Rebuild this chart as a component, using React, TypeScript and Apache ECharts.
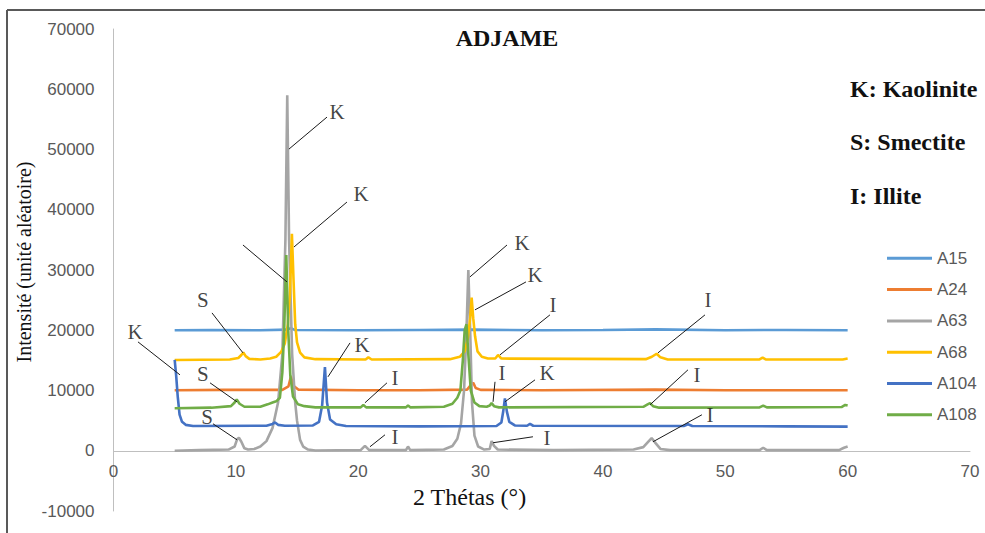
import React, { useEffect, useRef } from "react";
import * as echarts from "echarts";

const seriesNames = ["A15", "A24", "A63", "A68", "A104", "A108"];
const seriesColors = ["#5B9BD5", "#ED7D31", "#A5A5A5", "#FFC000", "#4472C4", "#70AD47"];

const a15 = [[5,20000],[8,20050],[12,20000],[14.2,20100],[14.5,20350],[14.8,20050],[20,20000],[25,20050],[29.3,20100],[35,20000],[40,20050],[44.3,20150],[50,20000],[55,20050],[60,20000]];

const a24 = [[5,10050],[9,10100],[13.8,10100],[14.3,10700],[14.5,12300],[14.7,10800],[15.1,10150],[20,10050],[25,10050],[28.9,10150],[29.2,10900],[29.4,11300],[29.6,10400],[30,10100],[35,10050],[44.3,10150],[50,10050],[60,10050]];

const a63 = [[5,0],[7,100],[9.4,200],[9.9,700],[10.1,1900],[10.25,2150],[10.45,1500],[10.7,400],[11.0,200],[11.5,300],[12.0,700],[12.5,1600],[13.0,3800],[13.45,8000],[13.8,16000],[14.05,35000],[14.2,59000],[14.35,35000],[14.6,16000],[14.85,8000],[15.0,5000],[15.25,1800],[15.5,700],[15.9,200],[16.5,50],[20.2,100],[20.55,800],[20.9,100],[23.9,100],[24.07,700],[24.25,100],[27.0,200],[27.7,800],[28.1,2000],[28.4,4500],[28.65,10000],[28.85,20000],[29.0,30000],[29.15,20000],[29.3,8000],[29.5,2500],[29.8,700],[30.3,200],[30.75,300],[30.9,1600],[31.1,800],[31.4,200],[36,100],[42.5,200],[43.3,600],[43.75,1600],[43.98,2100],[44.25,1400],[44.7,300],[45.5,100],[52.8,100],[53.1,500],[53.4,100],[59.3,100],[59.7,500],[60,700]];

const a68 = [[5,15050],[9.5,15150],[10.2,15400],[10.45,15900],[10.61,16300],[10.8,15700],[11.1,15250],[12,15150],[12.8,15300],[13.3,15600],[13.7,16400],[14.0,17800],[14.25,21000],[14.42,26000],[14.58,36000],[14.72,28000],[14.85,21000],[15.0,18000],[15.25,16300],[15.6,15500],[16.5,15200],[20.6,15150],[20.83,15500],[21.1,15150],[27.5,15200],[28.3,15600],[28.7,16500],[28.95,18500],[29.15,22000],[29.27,25400],[29.4,22000],[29.55,19000],[29.75,16500],[30.1,15600],[30.6,15300],[31.2,15300],[31.43,15900],[31.7,15300],[43.5,15200],[44.0,15600],[44.39,16100],[44.7,15500],[45.3,15150],[52.8,15150],[53.05,15450],[53.3,15150],[59.6,15150],[60,15300]];

const a104 = [[5.0,15100],[5.12,12500],[5.25,9000],[5.4,6000],[5.6,4800],[5.9,4300],[6.5,4100],[12.5,4150],[13.0,4450],[13.2,4700],[13.45,4300],[14,4150],[16.3,4200],[16.8,4800],[17.05,7500],[17.28,13900],[17.45,8000],[17.7,5200],[18.2,4400],[19,4100],[25,4050],[31.3,4100],[31.7,4700],[31.85,6500],[31.99,8700],[32.15,6500],[32.35,4800],[32.8,4200],[33.8,4150],[34.04,4450],[34.3,4150],[46.6,4100],[46.95,4400],[47.3,4100],[55,4050],[60,4000]];

const a108 = [[5,7050],[8,7150],[9.6,7400],[9.9,8000],[10.07,8500],[10.3,7800],[10.7,7300],[12.0,7300],[12.6,7700],[13.0,8000],[13.3,8200],[13.6,8800],[13.8,13000],[13.95,20000],[14.12,32500],[14.28,20000],[14.45,12500],[14.67,9000],[15.08,7700],[15.6,7400],[16.5,7200],[20.2,7200],[20.42,7600],[20.65,7200],[23.9,7200],[24.07,7500],[24.25,7200],[27.0,7300],[27.7,7800],[28.1,8800],[28.35,10000],[28.55,15000],[28.7,20000],[28.85,21000],[29.0,16000],[29.2,10000],[29.5,8000],[29.9,7400],[30.5,7300],[30.75,7500],[30.9,7900],[31.1,7400],[31.5,7200],[43.3,7300],[43.65,7700],[43.85,7900],[44.1,7400],[44.6,7150],[52.8,7200],[53.1,7500],[53.4,7200],[59.5,7250],[59.8,7600],[60,7500]];

const seriesData = [a15, a24, a63, a68, a104, a108];

// annotation leader lines: [x1, y1, x2, y2] in data units
const annotationLines = [
  [17.45,55380,14.34,50070],
  [19.08,41280,14.75,33820],
  [10.58,34150,14.18,28020],
  [8.05,22880,10.58,16250],
  [2.0,18070,5.43,12600],
  [7.89,11270,10.09,8120],
  [8.13,4480,10.09,1820],
  [19.33,17900,17.53,12270],
  [22.35,11270,20.55,7960],
  [22.19,2650,20.96,660],
  [32.16,34150,29.13,28850],
  [33.71,28020,29.54,23380],
  [35.67,22550,31.59,15920],
  [48.34,22550,44.5,16250],
  [31.18,11440,31.02,8120],
  [34.45,11770,31.99,8120],
  [46.95,13430,43.85,7630],
  [48.09,5970,44.09,1490],
  [34.28,2320,31.02,1330],
];

// annotation labels: [text, x, y]
const annotationLabels: [string, number, number][] = [
  ["K",18.27,56200],
  ["K",20.23,42600],
  ["S",7.31,25040],
  ["K",1.76,19730],
  ["S",7.31,12770],
  ["S",7.64,5640],
  ["K",20.31,17570],
  ["I",23.01,12100],
  ["I",23.01,2320],
  ["K",33.39,34490],
  ["K",34.45,29180],
  ["I",35.92,24210],
  ["I",48.59,25040],
  ["I",31.75,12930],
  ["K",35.43,12930],
  ["I",47.69,12600],
  ["I",48.75,5970],
  ["I",35.43,2160],
];

const mineralKey = ["K: Kaolinite", "S: Smectite", "I: Illite"];

const SERIF = '"Liberation Serif", "Times New Roman", serif';
const SANS = '"Liberation Sans", Arial, sans-serif';

export default function App() {
  const ref = useRef<HTMLDivElement>(null);
  useEffect(() => {
    const chart = echarts.init(ref.current!, null, { renderer: "svg" });
    const lineSeries = seriesNames.map((name, i) => ({
      name,
      type: "line",
      data: seriesData[i],
      symbol: "none",
      showSymbol: false,
      smooth: false,
      color: seriesColors[i],
      lineStyle: { color: seriesColors[i], width: 2.6 },
      silent: true,
    }));
    chart.setOption({
      animation: false,
      backgroundColor: "#ffffff",
      grid: { left: 113.5, right: 15, top: 29, bottom: 22, outerBoundsMode: "none" },
      xAxis: {
        type: "value",
        min: 0,
        max: 70,
        interval: 10,
        position: "bottom",
        offset: -60.25,
        axisLine: { show: true, onZero: false, lineStyle: { color: "#BFBFBF", width: 1 } },
        axisTick: { show: false },
        splitLine: { show: false },
        axisLabel: { color: "#595959", fontSize: 17, fontFamily: SANS, margin: 12 },
      },
      yAxis: {
        type: "value",
        min: -10000,
        max: 70000,
        interval: 10000,
        axisLine: { show: true, onZero: false, lineStyle: { color: "#BFBFBF", width: 1 } },
        axisTick: { show: false },
        splitLine: { show: false },
        axisLabel: {
          color: "#595959",
          fontSize: 17,
          fontFamily: SANS,
          margin: 19,
          formatter: (v: number) => String(v),
        },
      },
      legend: {
        data: seriesNames,
        orient: "vertical",
        left: 882,
        top: 244.8,
        icon: "rect",
        itemWidth: 45,
        itemHeight: 3,
        itemGap: 14.3,
        textStyle: { color: "#595959", fontSize: 17, fontFamily: SANS },
      },
      series: [
        ...lineSeries,
        {
          type: "lines",
          coordinateSystem: "cartesian2d",
          silent: true,
          z: 5,
          lineStyle: { color: "#1a1a1a", width: 1, opacity: 1 },
          data: annotationLines.map((l) => ({ coords: [[l[0], l[1]], [l[2], l[3]]] })),
        },
        {
          type: "scatter",
          silent: true,
          z: 6,
          symbolSize: 1,
          itemStyle: { color: "rgba(0,0,0,0)" },
          label: {
            show: true,
            position: "inside",
            formatter: "{b}",
            color: "#111111",
            fontSize: 21,
            fontFamily: SERIF,
          },
          data: annotationLabels.map((a) => ({ name: a[0], value: [a[1], a[2]] })),
        },
      ],
      graphic: [
        { type: "line", shape: { x1: 7, y1: 10, x2: 985, y2: 10 }, style: { stroke: "#595959", lineWidth: 2 } },
        { type: "line", shape: { x1: 7, y1: 10, x2: 7, y2: 533 }, style: { stroke: "#595959", lineWidth: 2 } },
        {
          type: "text",
          x: 507,
          y: 38,
          style: { text: "ADJAME", textAlign: "center", verticalAlign: "middle", font: `bold 24px ${SERIF}`, fill: "#111111" },
        },
        ...mineralKey.map((t, i) => ({
          type: "text",
          x: 850,
          y: [89, 142, 196][i],
          style: { text: t, textAlign: "left", verticalAlign: "middle", font: `bold 24px ${SERIF}`, fill: "#111111" },
        })),
        {
          type: "text",
          x: 24,
          y: 262,
          rotation: Math.PI / 2,
          style: { text: "Intensité (unité aléatoire)", textAlign: "center", verticalAlign: "middle", font: `20px ${SERIF}`, fill: "#111111" },
        },
        {
          type: "text",
          x: 413,
          y: 497,
          style: { text: "2 Thétas (°)", textAlign: "left", verticalAlign: "middle", font: `24px ${SERIF}`, fill: "#111111" },
        },
      ],
    });
    return () => chart.dispose();
  }, []);
  return (
    <div
      ref={ref}
      style={{ position: "fixed", left: 0, top: 0, width: 985, height: 533, background: "#ffffff" }}
    />
  );
}
